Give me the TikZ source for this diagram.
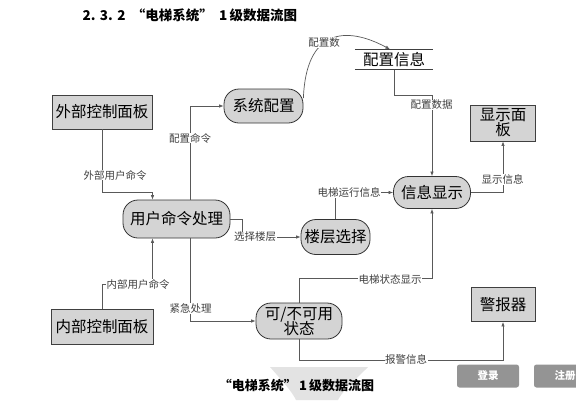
\documentclass[tikz,border=0pt]{standalone}
\usepackage{fontspec}
\setmainfont{Noto Sans CJK SC}
\usepackage{tikz}
\usetikzlibrary{arrows.meta}

\begin{document}
\begin{tikzpicture}[x=1pt,y=-1pt]
        \tikzstyle{entity}=[rectangle,fill=black!17,draw=black!75,
            line width=0.9pt,inner sep=1pt,font=\fontsize{15.5}{16}\selectfont]
        \tikzstyle{proc}=[rectangle,rounded corners=15pt,fill=black!17,
            draw=black!80,line width=0.8pt,inner sep=1pt,
            font=\fontsize{15.5}{16}\selectfont]
        \tikzstyle{flow}=[draw=black!65,line width=0.7pt,
            -{Latex[length=4.5pt,width=3.5pt]}]
        \tikzstyle{lbl}=[fill=white,inner sep=0.5pt,text=black!75,
            font=\fontsize{10.5}{11}\selectfont]
        \tikzstyle{btn}=[rectangle,rounded corners=2.5pt,fill=black!42,
            text=white,font=\fontsize{10.5}{11}\selectfont\bfseries]

            \useasboundingbox (0,0) rectangle (576,400);

            % title
            \node[anchor=west,font=\fontsize{13.5}{14}\selectfont\bfseries] (title)
            at (79,15.5) {2.\,\,3.\,\,2\ \ “电梯系统”\ \ 1\,级数据流图};

            % external entities
            \node[entity,minimum width=100,minimum height=34] (wbk) at (102,112) {外部控制面板};
            \node[entity,minimum width=102,minimum height=35] (nbk) at (102,327) {内部控制面板};
            \node[entity,minimum width=65,minimum height=36,align=center] (xsmb)
            at (503,123) {显示面\\[-1pt]板};
            \node[entity,minimum width=64,minimum height=34] (jbq) at (503,304.5) {警报器};

            % processes
            \node[proc,minimum width=79,minimum height=34] (xtpz) at (263.5,106) {系统配置};
            \node[proc,minimum width=107,minimum height=38] (yhml) at (176.5,219) {用户命令处理};
            \node[proc,minimum width=69,minimum height=35] (lcxz) at (335.5,237) {楼层选择};
            \node[proc,minimum width=77,minimum height=32] (xxxs) at (432,192.5) {信息显示};
            \node[proc,minimum width=86,minimum height=36,align=center] (kbky)
            at (299,321) {可/不可用\\[-1pt]状态};

            % data store
            \node[minimum width=78,minimum height=20,inner sep=0pt,
            font=\fontsize{15.5}{16}\selectfont] (pzxx) at (394,59.5) {配置信息};
            \draw[black!75,line width=0.8pt] (pzxx.north west) -- (pzxx.north east);
            \draw[black!75,line width=0.8pt] (pzxx.south west) -- (pzxx.south east);

            % flows
            \draw[flow] (wbk.south) -- ++(0,63) -| ([xshift=-24pt]yhml.north);
            \draw[flow] ([xshift=14pt]yhml.north) |- (xtpz.west);
            \draw[flow] ([yshift=8pt]xtpz.east) .. controls (306,30) and (345,25)
            .. ([xshift=-4pt]pzxx.north);
            \draw[flow] (pzxx.south) -- ++(0,25.5) -| (xxxs.north);
            \draw[flow] (xxxs.east) -| (xsmb.south);
            \draw[flow] (lcxz.north) |- (xxxs.west);
            \draw[flow] (yhml.east) -- ++(11.5,0) |- (lcxz.west);
            \draw[flow] (nbk.north) -- ++(0,-25) -| ([xshift=-24pt]yhml.south);
            \draw[flow] ([xshift=14pt]yhml.south) |- (kbky.west);
            \draw[flow] (kbky.north) -- ++(0,-24) -| (xxxs.south);
            \draw[flow] (kbky.south) -- ++(0,20.5) -| (jbq.south);

            % flow labels
            \node[lbl] (l1) at (115,175) {外部用户命令};
            \node[lbl] (l2) at (190,138) {配置命令};
            \node[lbl] (l3) at (324,42.5) {配置数};
            \node[lbl] (l4) at (431.5,105) {配置数据};
            \node[lbl] (l5) at (502.5,179.5) {显示信息};
            \node[lbl] (l6) at (349,192.5) {电梯运行信息};
            \node[lbl] (l7) at (255,237) {选择楼层};
            \node[lbl] (l8) at (138,284) {内部用户命令};
            \node[lbl] (l9) at (190.5,308.5) {紧急处理};
            \node[lbl] (l10) at (390,279.5) {电梯状态显示};
            \node[lbl] (l11) at (406,359.5) {报警信息};

            % caption and page buttons
            \fill[black!11] (270,367) -- (368,367) .. controls (350,385) and (342,392)
            .. (338,400) -- (296,400) .. controls (292,392) and (286,385) .. cycle;
            \node[font=\fontsize{13}{14}\selectfont\bfseries] (caption)
            at (296.5,385.5) {“电梯系统”\,1\,级数据流图};
            \node[btn,minimum width=62,minimum height=23] (login) at (488,376) {登录};
            \begin{scope}
                \clip (0,0) rectangle (576,400);
                \node[btn,minimum width=62,minimum height=23] (reg) at (565,376) {注册};
            \end{scope}
        \end{tikzpicture}
\end{document}
